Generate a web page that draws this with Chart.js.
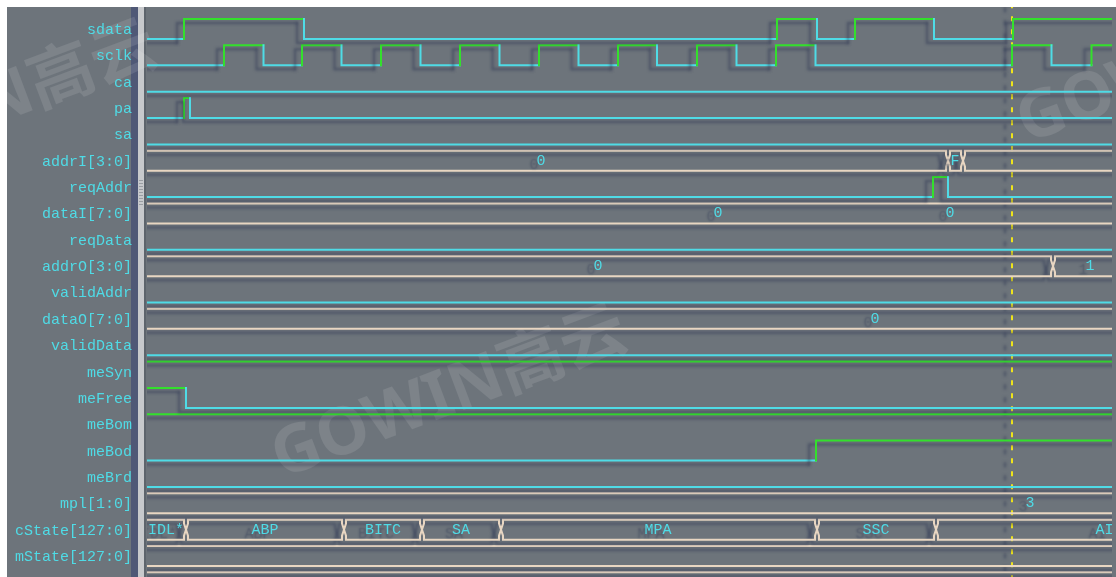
<!DOCTYPE html>
<html>
<head>
<meta charset="utf-8">
<script src="https://cdn.jsdelivr.net/npm/chart.js@4.4.0/dist/chart.umd.min.js"></script>
<style>
  html, body { margin: 0; padding: 0; background: #fff; overflow: hidden; }
</style>
</head>
<body>
<canvas id="wave" width="1116" height="577"></canvas>
<script>
// signal names, top to bottom
var signalNames = ["sdata", "sclk", "ca", "pa", "sa", "addrI[3:0]", "reqAddr", "dataI[7:0]",
  "reqData", "addrO[3:0]", "validAddr", "dataO[7:0]", "validData", "meSyn", "meFree",
  "meBom", "meBod", "meBrd", "mpl[1:0]", "cState[127:0]", "mState[127:0]"];

// single bit signals: start level + times where the level toggles
var sdataEdges = [37, 157, 630, 670, 708, 787, 866];
var sclkEdges = [77, 116.5, 155, 194.5, 234, 273.5, 313, 352.5, 392, 431.5, 471, 510,
  550, 589.5, 629, 668.5, 865, 904.5, 944.5];
var paEdges = [37, 43];
var reqAddrEdges = [786, 801];
var meFreeEdges = [39];
var meBodEdges = [669];
var startLevel = { sdata: 0, sclk: 0, ca: 0, pa: 0, sa: 0, reqAddr: 0, reqData: 0, validAddr: 0,
  validData: 0, meSyn: 1, meFree: 1, meBom: 1, meBod: 0, meBrd: 0 };

// buses: value change times, shown values and where they are printed
var addrIEdges = [801, 816];
var addrIValues = ["0", "F"];
var addrIValueAt = [394, 808];
var dataIValues = ["0", "0"];
var dataIValueAt = [571, 803];
var addrOEdges = [906];
var addrOValues = ["0", "1"];
var addrOValueAt = [451, 943];
var dataOValues = ["0"];
var dataOValueAt = [728];
var mplValues = ["3"];
var mplValueAt = [883];
var cStateEdges = [39, 197, 275, 354, 670, 789];
var cStateValues = ["IDL*", "ABP", "BITC", "SA", "MPA", "SSC", "AI"];
var cStateValueAt = [19, 118, 236, 314, 511, 729, 957.5];
var cursorAt = 865;

var CYAN = "#4fdbe6", GREEN = "#33e02c", BUS = "#e8d6c2", BG = "#6d747b";
var P = 26.35; // row pitch in px, used to turn pixel offsets into row units

var rowOf = function (name) { return signalNames.indexOf(name) }
var lvY = function (row, lv) { return lv ? row - 11 / P : row + 9 / P }

var bitSet = function (name, edges) {
  var row = rowOf(name)
  var lv = startLevel[name]
  var pts = [{ x: -20, y: lvY(row, lv), lv: lv }]
  edges.forEach(function (t) {
    pts.push({ x: t, y: lvY(row, lv), lv: lv })
    lv = 1 - lv
  })
  pts.push({ x: 1000, y: lvY(row, lv), lv: lv })
  return {
    data: pts, stepped: 'after', borderWidth: 2, pointRadius: 0,
    borderColor: startLevel[name] ? GREEN : CYAN, borderCapStyle: 'square',
    segment: { borderColor: function (ctx) { return pts[ctx.p1DataIndex].lv ? GREEN : CYAN } }
  }
}

// two rails with a pinch at every value change
var busSets = function (row, edges) {
  var top = row - 11 / P, bot = row + 9 / P, mid = row - 1 / P
  var sets = []
  ;[[top, row - 7 / P], [bot, row + 5 / P]].forEach(function (r) {
    var pts = [{ x: -20, y: r[0] }]
    edges.forEach(function (t) {
      pts.push({ x: t - 2, y: r[0] }, { x: t - 2, y: r[1] }, { x: t, y: mid },
        { x: t + 2, y: r[1] }, { x: t + 2, y: r[0] })
    })
    pts.push({ x: 1000, y: r[0] })
    sets.push({ data: pts, borderColor: BUS, borderWidth: 2, pointRadius: 0, tension: 0 })
  })
  return sets
}

var datasets = []
datasets.push(bitSet("sdata", sdataEdges))
datasets.push(bitSet("sclk", sclkEdges))
datasets.push(bitSet("ca", []))
datasets.push(bitSet("pa", paEdges))
datasets.push(bitSet("sa", []))
datasets = datasets.concat(busSets(rowOf("addrI[3:0]"), addrIEdges))
datasets.push(bitSet("reqAddr", reqAddrEdges))
datasets = datasets.concat(busSets(rowOf("dataI[7:0]"), []))
datasets.push(bitSet("reqData", []))
datasets = datasets.concat(busSets(rowOf("addrO[3:0]"), addrOEdges))
datasets.push(bitSet("validAddr", []))
datasets = datasets.concat(busSets(rowOf("dataO[7:0]"), []))
datasets.push(bitSet("validData", []))
datasets.push(bitSet("meSyn", []))
datasets.push(bitSet("meFree", meFreeEdges))
datasets.push(bitSet("meBom", []))
datasets.push(bitSet("meBod", meBodEdges))
datasets.push(bitSet("meBrd", []))
datasets = datasets.concat(busSets(rowOf("mpl[1:0]"), []))
datasets = datasets.concat(busSets(rowOf("cState[127:0]"), cStateEdges))
datasets = datasets.concat(busSets(rowOf("mState[127:0]"), []))
datasets = datasets.concat(busSets(signalNames.length, []))
// cursor
datasets.push({ data: [{ x: cursorAt, y: -2 }, { x: cursorAt, y: 22 }], borderColor: "#eee41c",
  borderWidth: 2, borderDash: [5, 8], pointRadius: 0 })

var busText = [
  ["addrI[3:0]", addrIValues, addrIValueAt],
  ["dataI[7:0]", dataIValues, dataIValueAt],
  ["addrO[3:0]", addrOValues, addrOValueAt],
  ["dataO[7:0]", dataOValues, dataOValueAt],
  ["mpl[1:0]", mplValues, mplValueAt],
  ["cState[127:0]", cStateValues, cStateValueAt]
]

var setShadow = function (ctx) {
  ctx.shadowColor = "rgba(40,50,80,0.55)"
  ctx.shadowOffsetX = -7
  ctx.shadowOffsetY = 4
  ctx.shadowBlur = 3
}

var backdrop = {
  id: 'backdrop',
  beforeDraw: function (chart) {
    var ctx = chart.ctx
    ctx.save()
    ctx.fillStyle = "#fff"
    ctx.fillRect(0, 0, 1116, 577)
    ctx.fillStyle = BG
    ctx.fillRect(7, 7, 1109, 570)
    ctx.fillStyle = "#4f5876"
    ctx.fillRect(131, 7, 7, 570)
    ctx.fillStyle = "#c7c9cc"
    ctx.fillRect(138, 7, 6, 570)
    ctx.fillStyle = "#5d646c"
    ctx.fillRect(144, 7, 2, 570)
    ctx.fillStyle = "#9a9ea3"
    for (var y = 180; y < 206; y += 3) ctx.fillRect(139, y, 4, 1)
    // watermark
    ctx.fillStyle = "rgba(255,255,255,0.11)"
    ctx.font = 'bold 66px "Noto Sans", "Noto Sans CJK SC"'
    ctx.textAlign = 'center'
    ctx.textBaseline = 'middle'
    ;[[450, 395], [-20, 110], [1195, 60]].forEach(function (c) {
      ctx.save()
      ctx.translate(c[0], c[1])
      ctx.rotate(-0.36)
      ctx.fillText("GOWIN高云", 0, 0)
      ctx.restore()
    })
    ctx.restore()
  },
  beforeDatasetsDraw: function (chart) {
    chart.ctx.save()
    setShadow(chart.ctx)
  },
  afterDatasetsDraw: function (chart) {
    var ctx = chart.ctx
    ctx.restore()
    var a = chart.chartArea
    var xs = chart.scales.x, ys = chart.scales.y
    ctx.save()
    ctx.beginPath()
    ctx.rect(a.left, a.top, a.right - a.left, a.bottom - a.top)
    ctx.clip()
    setShadow(ctx)
    ctx.shadowBlur = 2
    ctx.shadowColor = "rgba(40,50,80,0.45)"
    ctx.fillStyle = CYAN
    ctx.font = '15px "Liberation Mono"'
    ctx.textAlign = 'center'
    ctx.textBaseline = 'middle'
    busText.forEach(function (b) {
      var y = ys.getPixelForValue(rowOf(b[0])) - 1
      b[1].forEach(function (v, i) { ctx.fillText(v, xs.getPixelForValue(b[2][i]), y) })
    })
    ctx.restore()
  }
}

var yMin = -(30 - 7) / P

new Chart(document.getElementById("wave"), {
  type: 'line',
  data: { datasets: datasets },
  options: {
    responsive: false,
    animation: false,
    devicePixelRatio: 1,
    layout: { autoPadding: false, padding: { left: 7, top: 7, right: 4, bottom: 0 } },
    plugins: { legend: { display: false }, tooltip: { enabled: false } },
    scales: {
      x: { type: 'linear', min: 0, max: 965, display: false },
      y: {
        type: 'linear', reverse: true, min: yMin, max: yMin + 570 / P,
        grid: { display: false, drawTicks: false }, border: { display: false },
        afterBuildTicks: function (s) { s.ticks = signalNames.map(function (n, i) { return { value: i } }) },
        afterFit: function (s) { s.width = 140; s.paddingTop = 0; s.paddingBottom = 0 },
        ticks: {
          padding: 15, color: CYAN, autoSkip: false,
          font: { family: '"Liberation Mono"', size: 15 },
          callback: function (v) { return signalNames[v] }
        }
      }
    }
  },
  plugins: [backdrop]
})
</script>
</body>
</html>
